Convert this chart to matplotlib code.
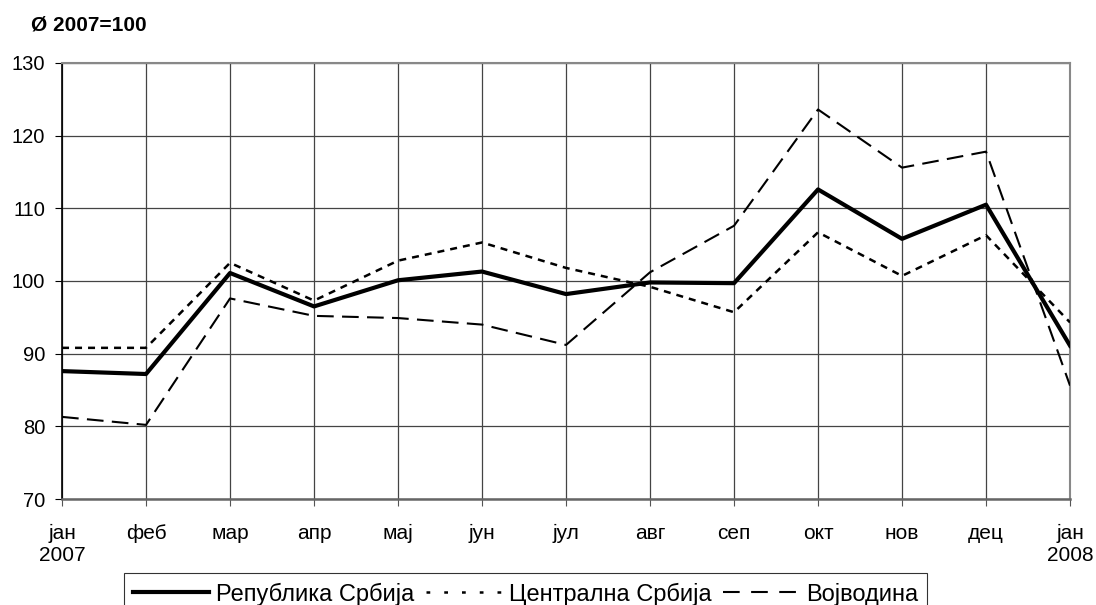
import matplotlib.pyplot as plt

plt.rcParams["font.family"] = ["Liberation Sans", "DejaVu Sans"]

meseci = ["јан\n2007", "феб", "мар", "апр", "мај", "јун", "јул", "авг",
          "сеп", "окт", "нов", "дец", "јан\n2008"]
republika = [87.6, 87.2, 101.1, 96.5, 100.1, 101.3, 98.2, 99.8, 99.7, 112.6, 105.8, 110.5, 91.1]
centralna = [90.8, 90.8, 102.5, 97.3, 102.8, 105.3, 101.8, 99.2, 95.7, 106.7, 100.7, 106.3, 94.3]
vojvodina = [81.3, 80.2, 97.6, 95.2, 94.9, 94.0, 91.2, 101.2, 107.6, 123.6, 115.6, 117.8, 85.6]

fig = plt.figure(figsize=(10.96, 6.05), dpi=100)
ax = fig.add_axes([0.0566, 0.1752, 0.9197, 0.7207])

x = range(len(meseci))
ax.plot(x, republika, color="black", lw=3.0, label="Република Србија", zorder=4)
ax.plot(x, centralna, color="black", lw=1.8, linestyle=(0, (2.8, 2.4)), label="Централна Србија", zorder=3)
ax.plot(x, vojvodina, color="black", lw=1.5, linestyle=(0, (8, 4)), label="Војводина", zorder=3)

ax.set_xlim(0, len(meseci) - 1)
ax.set_ylim(70, 130)
ax.set_yticks(range(70, 131, 10))
ax.set_xticks(list(x))
ax.set_xticklabels(meseci, fontsize=15)
ax.tick_params(axis="y", labelsize=14.5, length=5, width=0.8, pad=7)
ax.tick_params(axis="x", length=5, width=0.8, pad=13, color="#555555")
ax.grid(True, color="#444444", lw=0.9)
ax.set_axisbelow(True)
for s in ["top", "right"]:
    ax.spines[s].set_color("#888888")
    ax.spines[s].set_linewidth(1.5)
ax.spines["bottom"].set_color("#666666")
ax.spines["bottom"].set_linewidth(1.8)
ax.spines["left"].set_color("black")
ax.spines["left"].set_linewidth(1.2)

fig.text(31 / 1096, 1 - 25 / 605, "Ø 2007=100", fontsize=15, fontweight="bold", va="center")

leg = ax.legend(loc="upper center", bbox_to_anchor=(0.46, -0.170), ncol=3, fontsize=17,
                frameon=True, fancybox=False, handlelength=3.2, handletextpad=0.3,
                columnspacing=0.5, borderpad=0.4, borderaxespad=0)
leg.get_frame().set_edgecolor("black")
leg.get_frame().set_linewidth(0.8)
# crtice u legendi kao na originalu
leg.get_lines()[1].set_linestyle((0, (1.5, 5.6)))
leg.get_lines()[2].set_linestyle((0, (8, 5.5)))

fig.savefig("out.png", dpi=100)
